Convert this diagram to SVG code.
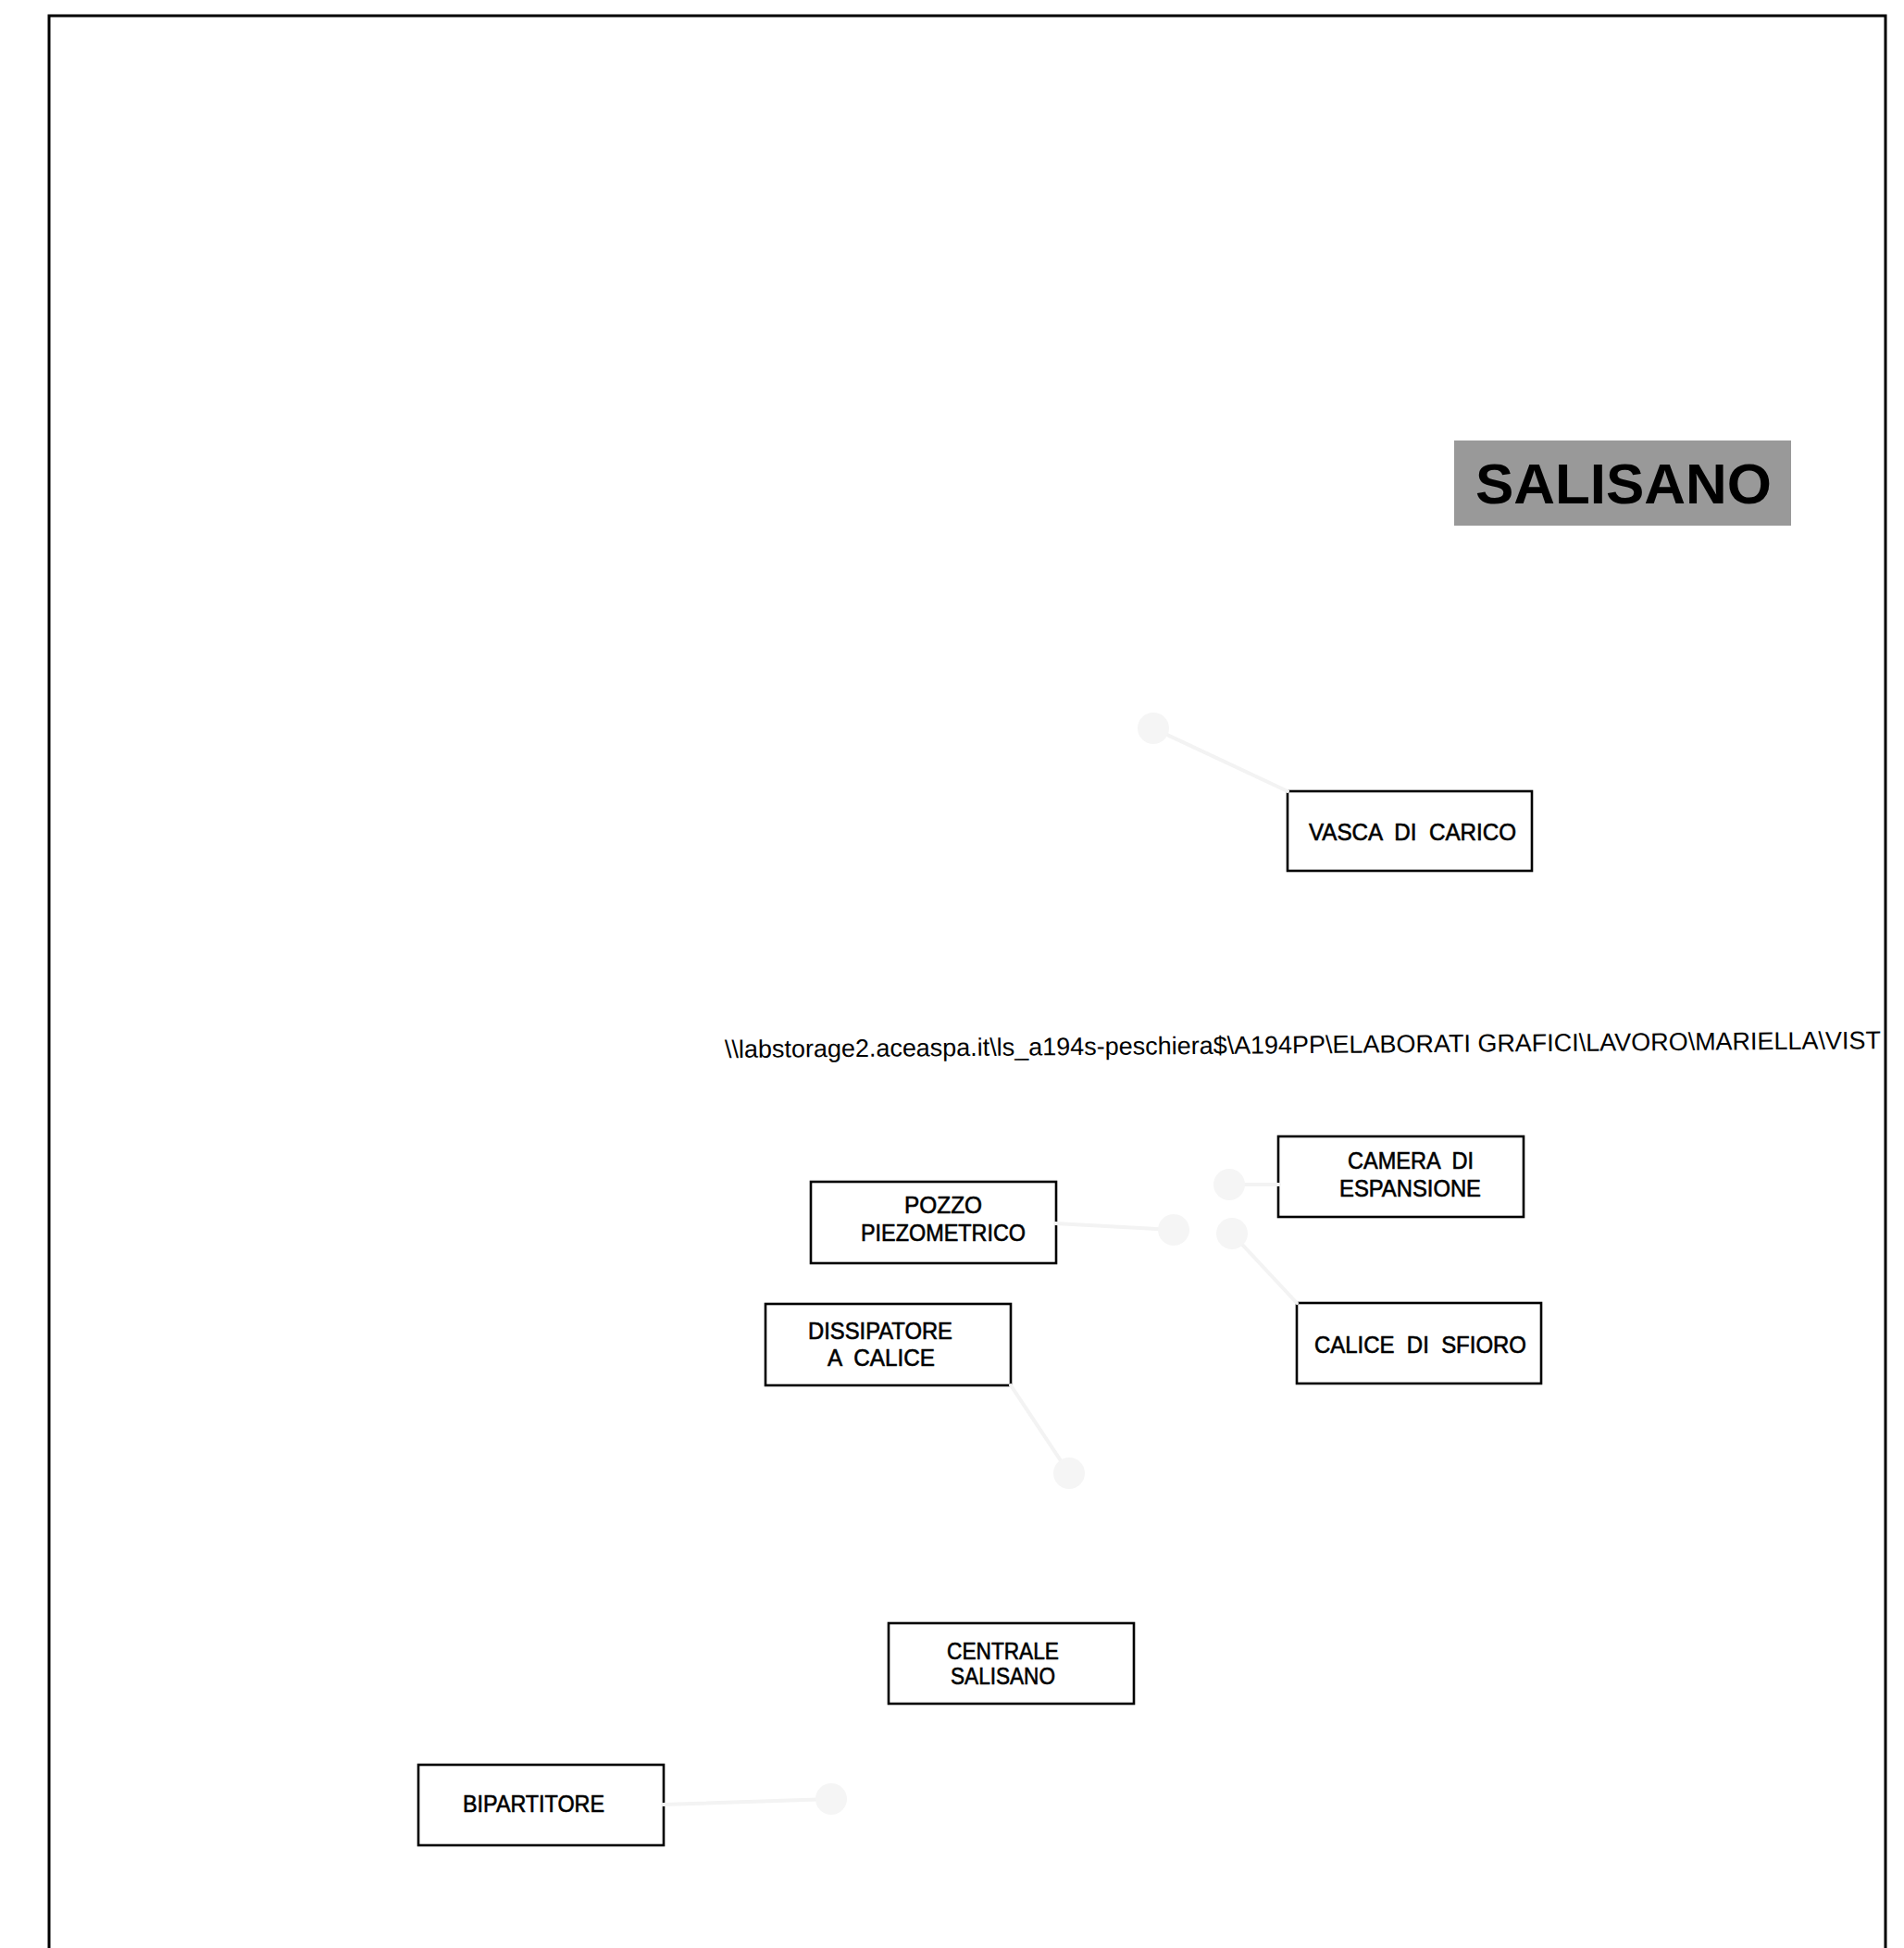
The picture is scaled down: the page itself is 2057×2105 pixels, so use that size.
<svg xmlns="http://www.w3.org/2000/svg" width="2057" height="2105" viewBox="0 0 2057 2105">
<style>
.box{fill:#ffffff;stroke:#000000;stroke-width:2.6}
.lbl{font-family:"Liberation Sans",Arial,sans-serif;font-size:25px;fill:#000000;stroke:#000000;stroke-width:0.6}
.conn{stroke:#f3f3f3;stroke-width:4;fill:none;stroke-linecap:round}
.dot{fill:#f5f5f5}
</style>
<rect x="0" y="0" width="2057" height="2105" fill="#ffffff"/>
<g id="frame">
<path d="M53,2105 V17 H2037 V2105" fill="none" stroke="#000000" stroke-width="3"/>
</g>
<g id="title">
<rect x="1571" y="476" width="364" height="92" fill="#999999"/>
<text x="1594" y="544" font-family="'Liberation Sans',Arial,sans-serif" font-size="62" font-weight="bold" textLength="320" lengthAdjust="spacingAndGlyphs">SALISANO</text>
</g>
<g id="path-label">
<text x="783" y="1143" transform="rotate(-0.45 783 1143)" font-family="'Liberation Sans',Arial,sans-serif" font-size="27" textLength="1249" lengthAdjust="spacingAndGlyphs">\\labstorage2.aceaspa.it\ls_a194s-peschiera$\A194PP\ELABORATI GRAFICI\LAVORO\MARIELLA\VIST</text>
</g>
<g id="vasca-di-carico">
<rect class="box" x="1391" y="855" width="264" height="86"/>
<text class="lbl" x="1414" y="908" textLength="224" lengthAdjust="spacingAndGlyphs" xml:space="preserve">VASCA  DI  CARICO</text>
</g>
<g id="camera-di-espansione">
<rect class="box" x="1381" y="1228" width="265" height="87"/>
<text class="lbl" x="1456" y="1263" textLength="136" lengthAdjust="spacingAndGlyphs" xml:space="preserve">CAMERA  DI</text>
<text class="lbl" x="1447" y="1293" textLength="153" lengthAdjust="spacingAndGlyphs">ESPANSIONE</text>
</g>
<g id="pozzo-piezometrico">
<rect class="box" x="876" y="1277" width="265" height="88"/>
<text class="lbl" x="977" y="1311" textLength="84" lengthAdjust="spacingAndGlyphs">POZZO</text>
<text class="lbl" x="930" y="1341" textLength="178" lengthAdjust="spacingAndGlyphs">PIEZOMETRICO</text>
</g>
<g id="calice-di-sfioro">
<rect class="box" x="1401" y="1408" width="264" height="87"/>
<text class="lbl" x="1420" y="1462" textLength="229" lengthAdjust="spacingAndGlyphs" xml:space="preserve">CALICE  DI  SFIORO</text>
</g>
<g id="dissipatore-a-calice">
<rect class="box" x="827" y="1409" width="265" height="88"/>
<text class="lbl" x="873" y="1447" textLength="156" lengthAdjust="spacingAndGlyphs">DISSIPATORE</text>
<text class="lbl" x="894" y="1476" textLength="116" lengthAdjust="spacingAndGlyphs" xml:space="preserve">A  CALICE</text>
</g>
<g id="centrale-salisano">
<rect class="box" x="960" y="1754" width="265" height="87"/>
<text class="lbl" x="1023" y="1793" textLength="121" lengthAdjust="spacingAndGlyphs">CENTRALE</text>
<text class="lbl" x="1027" y="1820" textLength="113" lengthAdjust="spacingAndGlyphs">SALISANO</text>
</g>
<g id="bipartitore">
<rect class="box" x="452" y="1907" width="265" height="87"/>
<text class="lbl" x="500" y="1958" textLength="153" lengthAdjust="spacingAndGlyphs">BIPARTITORE</text>
</g>
<g id="connectors">
<line class="conn" x1="1246" y1="787" x2="1391" y2="855"/>
<circle class="dot" cx="1246" cy="787" r="17"/>
<line class="conn" x1="1328" y1="1280" x2="1382" y2="1280"/>
<circle class="dot" cx="1328" cy="1280" r="17"/>
<line class="conn" x1="1140" y1="1322" x2="1268" y2="1329"/>
<circle class="dot" cx="1268" cy="1329" r="17"/>
<line class="conn" x1="1331" y1="1333" x2="1401" y2="1408"/>
<circle class="dot" cx="1331" cy="1333" r="17"/>
<line class="conn" x1="1092" y1="1497" x2="1155" y2="1592"/>
<circle class="dot" cx="1155" cy="1592" r="17"/>
<line class="conn" x1="716" y1="1950" x2="898" y2="1944"/>
<circle class="dot" cx="898" cy="1944" r="17"/>
</g>
</svg>
